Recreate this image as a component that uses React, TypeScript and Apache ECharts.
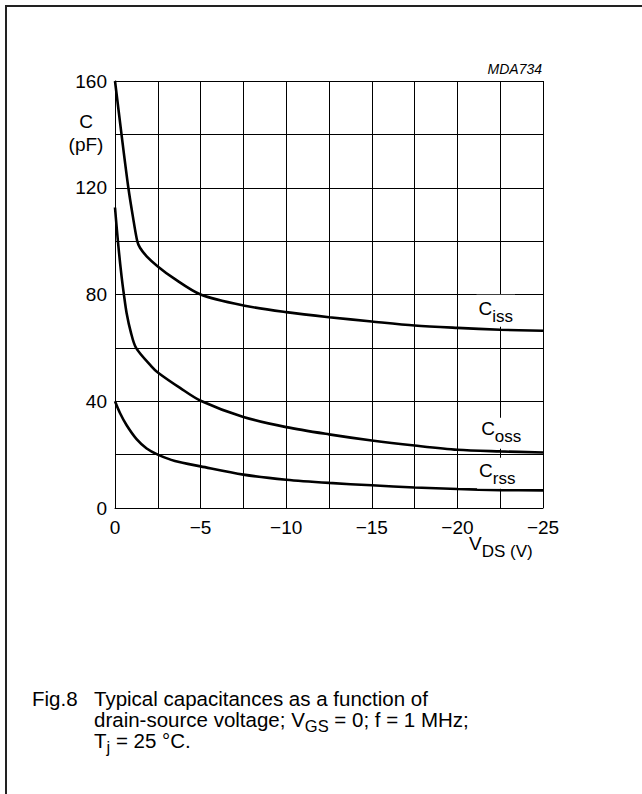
import React, { useEffect, useRef } from "react";
import * as echarts from "echarts";

const FONT = "'Liberation Sans', Arial, Helvetica, sans-serif";

// V_DS (V) and C (pF)
const cissV = [0, -0.4, -0.78, -1.05, -1.3, -1.46, -1.85, -2.5, -3.4, -5, -7.5, -10, -12.5, -15, -17.5, -20, -22.5, -25];
const cissC = [160, 139, 120, 109, 100, 97.5, 94.3, 90.5, 86.2, 80, 75.9, 73.4, 71.5, 69.9, 68.4, 67.5, 66.8, 66.4];

const cossV = [0, -0.1, -0.23, -0.38, -0.53, -0.68, -0.92, -1.23, -2.14, -2.5, -3.8, -5, -7.5, -10, -12.5, -15, -17.5, -20, -22.5, -25];
const cossC = [112.6, 105, 96, 87, 79.5, 73, 66, 60, 53, 50.8, 45, 40.2, 34.1, 30.3, 27.6, 25.3, 23.4, 21.8, 21.2, 20.8];

const crssV = [0, -0.29, -0.68, -1.26, -1.85, -2.5, -3.5, -5, -7.5, -10, -12.5, -15, -17.5, -20, -22.5, -25];
const crssC = [40, 35.6, 31.0, 25.8, 22.3, 20, 17.6, 15.6, 12.5, 10.6, 9.4, 8.5, 7.7, 7.1, 6.7, 6.6];

const curveNames = ["iss", "oss", "rss"];
// label anchors (data coordinates)
const labelV = [-22.24, -22.56, -22.33];
const labelC = [73.9, 28.0, 13.0];

const xTicks = { min: -25, max: 0, step: 5 };
const yTicks = { min: 0, max: 160, step: 40 };

const captionLines = [
  "{n|Typical capacitances as a function of}",
  "{n|drain-source voltage; V}{s|GS}{n| = 0; f = 1 MHz;}",
  "{n|T}{s|j}{n| = 25 °C.}",
];

function pairs(xs: number[], ys: number[]) {
  return xs.map((x, i) => [x, ys[i]]);
}

function subRich(main: number, sub: number) {
  return {
    n: { fontSize: main, lineHeight: 26, verticalAlign: "top", fontFamily: FONT, color: "#000", fill: "#000" },
    s: { fontSize: sub, lineHeight: 12, verticalAlign: "bottom", fontFamily: FONT, color: "#000", fill: "#000" },
    p: { fontSize: 17, lineHeight: 22, verticalAlign: "bottom", fontFamily: FONT, color: "#000", fill: "#000" },
  };
}

export default function App() {
  const ref = useRef<HTMLDivElement>(null);

  useEffect(() => {
    if (!ref.current) return;
    const chart = echarts.init(ref.current, null, { renderer: "svg" });

    const datasets = [pairs(cissV, cissC), pairs(cossV, cossC), pairs(crssV, crssC)];
    const paddings = [
      [4, 2, 2, 2],
      [1, 2, 4, 2],
      [3, 2, 2, 2],
    ];

    const series = datasets.map((d, i) => ({
      type: "line",
      name: "C" + curveNames[i],
      data: d,
      showSymbol: false,
      smooth: 0.3,
      lineStyle: { color: "#000", width: 2.6 },
      itemStyle: { color: "#000" },
      z: 3,
      markPoint: {
        symbol: "circle",
        symbolSize: 0,
        itemStyle: { color: "rgba(0,0,0,0)" },
        silent: true,
        data: [
          {
            coord: [labelV[i], labelC[i]],
            label: {
              show: true,
              position: "inside",
              formatter: "{n|C}{s|" + curveNames[i] + "}",
              rich: subRich(19, 17),
              backgroundColor: "#fff",
              padding: paddings[i],
            },
          },
        ],
      },
    }));

    const gridLine = { show: true, lineStyle: { color: "#000", width: 1 } };

    const option: any = {
      animation: false,
      backgroundColor: "#fff",
      grid: { left: 115, top: 81, width: 428, height: 427, containLabel: false },
      xAxis: {
        type: "value",
        inverse: true,
        min: xTicks.min,
        max: xTicks.max,
        interval: xTicks.step,
        axisLine: { show: true, lineStyle: { color: "#000", width: 1 } },
        axisTick: { show: false },
        minorTick: { show: false, splitNumber: 2 },
        splitLine: gridLine,
        minorSplitLine: gridLine,
        axisLabel: {
          margin: 10,
          fontSize: 19,
          fontFamily: FONT,
          color: "#000",
          formatter: (v: number) => (v === 0 ? "0" : "\u2212" + Math.abs(v)),
        },
      },
      yAxis: {
        type: "value",
        min: yTicks.min,
        max: yTicks.max,
        interval: yTicks.step,
        axisLine: { show: true, lineStyle: { color: "#000", width: 1 } },
        axisTick: { show: false },
        minorTick: { show: false, splitNumber: 2 },
        splitLine: gridLine,
        minorSplitLine: gridLine,
        axisLabel: { margin: 8, fontSize: 19, fontFamily: FONT, color: "#000" },
      },
      series,
      graphic: [
        { type: "line", shape: { x1: 5, y1: 6, x2: 642, y2: 6 }, style: { stroke: "#222", lineWidth: 2 } },
        { type: "line", shape: { x1: 6, y1: 5, x2: 6, y2: 794 }, style: { stroke: "#222", lineWidth: 2 } },
        {
          type: "text",
          x: 542,
          y: 68.5,
          style: {
            text: "MDA734",
            fill: "#000",
            font: "italic 14px " + FONT,
            textAlign: "right",
            align: "right",
            textVerticalAlign: "middle",
            verticalAlign: "middle",
          },
        },
        {
          type: "text",
          x: 86,
          y: 110,
          style: {
            text: "C\n(pF)",
            fill: "#000",
            font: "19px " + FONT,
            lineHeight: 23,
            textAlign: "center",
            align: "center",
            textVerticalAlign: "top",
            verticalAlign: "top",
          },
        },
        {
          type: "text",
          x: 469,
          y: 534,
          style: {
            text: "{n|V}{s|DS}{p| (V)}",
            rich: subRich(19, 17),
            fill: "#000",
            font: "19px " + FONT,
            textAlign: "left",
            align: "left",
            textVerticalAlign: "top",
            verticalAlign: "top",
          },
        },
        {
          type: "text",
          x: 32,
          y: 687.5,
          style: {
            text: "{n|Fig.8}",
            rich: subRich(20.5, 16.5),
            fill: "#000",
            font: "20.5px " + FONT,
            textAlign: "left",
            align: "left",
            textVerticalAlign: "top",
            verticalAlign: "top",
          },
        },
        ...captionLines.map((t, i) => ({
          type: "text",
          x: 94,
          y: 687.5 + i * 21,
          style: {
            text: t,
            rich: subRich(20.5, 16.5),
            fill: "#000",
            font: "20.5px " + FONT,
            textAlign: "left",
            align: "left",
            textVerticalAlign: "top",
            verticalAlign: "top",
          },
        })),
      ],
    };

    chart.setOption(option);
    return () => chart.dispose();
  }, []);

  return (
    <div
      ref={ref}
      style={{ position: "absolute", left: 0, top: 0, width: 642, height: 794, background: "#fff" }}
    />
  );
}
